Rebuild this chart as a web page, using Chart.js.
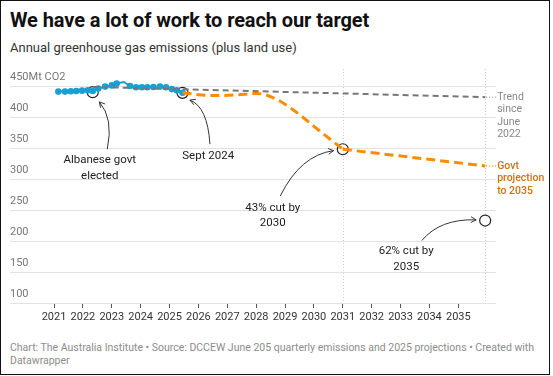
<!DOCTYPE html>
<html>
<head>
<meta charset="utf-8">
<script src="https://cdn.jsdelivr.net/npm/chart.js@4.4.1/dist/chart.umd.min.js"></script>
<style>
  body { margin: 0; background: #fff; font-family: Roboto, "Noto Sans", sans-serif; }
  #frame { position: relative; width: 553px; height: 376px; overflow: hidden; background: #fff; }
  #frame::after { content: ""; position: absolute; left: 0; top: 0; width: 550px; height: 375px; border: 1.5px solid #111; pointer-events: none; box-sizing: border-box; }
  h1 { position: absolute; left: 10px; top: 8px; margin: 0; font-size: 20px; font-weight: 700; color: #111; letter-spacing: -0.1px; }
  .sub { position: absolute; left: 10px; top: 40px; font-size: 13px; color: #333; }
  .wrap { position: absolute; left: 0; top: 60px; width: 553px; height: 275px; }
  .foot { position: absolute; left: 10px; top: 341px; font-size: 10.5px; line-height: 13px; color: #8c8c8c; }
</style>
</head>
<body>
<div id="frame">
  <h1>We have a lot of work to reach our target</h1>
  <div class="sub">Annual greenhouse gas emissions (plus land use)</div>
  <div class="wrap"><canvas id="emissionsChart"></canvas></div>
  <div class="foot">Chart: The Australia Institute • Source: DCCEW June 205 quarterly emissions and 2025 projections • Created with<br>Datawrapper</div>
</div>
<script>
// quarterly actuals (rolling annual, Mt CO2-e)
const actualYears = [2021.15, 2021.38, 2021.58, 2021.77, 2021.97, 2022.17, 2022.34, 2022.53, 2022.77, 2023.0, 2023.17,
  2023.42, 2023.63, 2023.84, 2024.04, 2024.23, 2024.44, 2024.67, 2024.88, 2025.08, 2025.25, 2025.45];
const actualValues = [441, 441, 441.5, 442, 442.5, 443, 442, 446, 449, 451, 454,
  456.5, 450, 448, 448, 448, 448.5, 449, 448, 445, 443, 439];

// govt projection (curved to 2030 target, then straight to 2035)
const projYears = [2025.45, 2026.5, 2027.3, 2028.0, 2028.6, 2029.3, 2030.0, 2031.0, 2035.93];
const projValues = [439, 434.5, 435.5, 438, 431, 411, 385, 348, 321];
const projBreak = 7; // index of 2030 target point

// trend since June 2022
const trendYears = [2022.34, 2035.93];
const trendValues = [448.5, 432];

// circled points + their notes
const markerYears = [2022.34, 2025.45, 2031.0, 2035.93];
const markerValues = [440, 439, 348, 233];
const markerLabels = [["Albanese govt", "elected"], ["Sept 2024"], ["43% cut by", "2030"], ["62% cut by", "2035"]];

const yearTicks = [2021, 2022, 2023, 2024, 2025, 2026, 2027, 2028, 2029, 2030, 2031, 2032, 2033, 2034, 2035];
const valueTicks = [100, 150, 200, 250, 300, 350, 400, 450];
const guideYears = [2031.0, 2035.93];

const toXY = (xs, ys) => xs.map((x, i) => ({ x: x, y: ys[i] }));

// note placement (px offsets from the circle) and arrow curves: start, control, end
const notes = [
  { text: [7, 68], arrow: [14.6, 57, 21, 26, 6.6, 9.7] },
  { text: [25.7, 63.7], arrow: [27.4, 51.3, 25, 14, 7.4, 7.3] },
  { text: [-70, 58.4], arrow: [-62.5, 46.7, -42.5, 6, -9.2, 1.4] },
  { text: [-79, 31], arrow: [-63.3, 20, -45, -2, -9, -0.7] }
];

function drawArrow(ctx, sx, sy, cx, cy, ex, ey) {
  ctx.beginPath();
  ctx.moveTo(sx, sy);
  ctx.quadraticCurveTo(cx, cy, ex, ey);
  ctx.stroke();
  const a = Math.atan2(ey - cy, ex - cx);
  const h = 6;
  ctx.beginPath();
  ctx.moveTo(ex - h * Math.cos(a - 0.5), ey - h * Math.sin(a - 0.5));
  ctx.lineTo(ex, ey);
  ctx.lineTo(ex - h * Math.cos(a + 0.5), ey - h * Math.sin(a + 0.5));
  ctx.stroke();
}

const guides = {
  id: "guides",
  beforeDatasetsDraw(chart) {
    const { ctx, chartArea, scales } = chart;
    ctx.save();
    ctx.strokeStyle = "#cfcfcf";
    ctx.lineWidth = 1;
    ctx.setLineDash([1, 2]);
    guideYears.forEach(yr => {
      const px = Math.round(scales.x.getPixelForValue(yr)) + 0.5;
      ctx.beginPath();
      ctx.moveTo(px, chartArea.top - 17);
      ctx.lineTo(px, chartArea.bottom);
      ctx.stroke();
    });
    ctx.restore();
  },
  afterDatasetsDraw(chart) {
    const { ctx, scales } = chart;
    ctx.save();
    ctx.font = "11.5px Roboto";
    ctx.textAlign = "center";
    ctx.textBaseline = "middle";
    markerYears.forEach((yr, i) => {
      const px = scales.x.getPixelForValue(yr);
      const py = scales.y.getPixelForValue(markerValues[i]);
      const n = notes[i];
      ctx.fillStyle = "#222";
      markerLabels[i].forEach((line, j) => ctx.fillText(line, px + n.text[0], py + n.text[1] + j * 15.5));
      const a = n.arrow;
      ctx.strokeStyle = "#333";
      ctx.lineWidth = 1;
      drawArrow(ctx, px + a[0], py + a[1], px + a[2], py + a[3], px + a[4], py + a[5]);
    });

    // end labels with dotted leaders
    const ends = [
      { x: trendYears[1], y: trendValues[1], color: "#888", weight: "400", lines: ["Trend", "since", "June", "2022"] },
      { x: projYears[projYears.length - 1], y: projValues[projValues.length - 1], color: "#d2700e", weight: "500", lines: ["Govt", "projection", "to 2035"] }
    ];
    ctx.textAlign = "left";
    ends.forEach(e => {
      const px = scales.x.getPixelForValue(e.x);
      const py = scales.y.getPixelForValue(e.y);
      ctx.strokeStyle = e.color;
      ctx.setLineDash([1, 2]);
      ctx.beginPath();
      ctx.moveTo(px + 1, py);
      ctx.lineTo(px + 11, py);
      ctx.stroke();
      ctx.setLineDash([]);
      ctx.fillStyle = e.color;
      ctx.font = e.weight + " 10.5px Roboto";
      e.lines.forEach((line, j) => ctx.fillText(line, px + 12, py + j * 12.5));
    });
    ctx.restore();
  }
};

const projStyle = {
  borderColor: "#ff8c00",
  borderWidth: 3,
  borderDash: [9, 5],
  pointRadius: 0,
  clip: false
};

new Chart(document.getElementById("emissionsChart"), {
  type: "line",
  data: {
    datasets: [
      {
        label: "Trend since June 2022",
        data: toXY(trendYears, trendValues),
        borderColor: "#777",
        borderWidth: 2,
        borderDash: [6, 4],
        pointRadius: 0,
        clip: false
      },
      Object.assign({
        label: "Govt projection to 2030",
        data: toXY(projYears.slice(0, projBreak + 1), projValues.slice(0, projBreak + 1)),
        cubicInterpolationMode: "monotone"
      }, projStyle),
      Object.assign({
        label: "Govt projection to 2035",
        data: toXY(projYears.slice(projBreak), projValues.slice(projBreak)),
        tension: 0
      }, projStyle),
      {
        label: "Emissions",
        data: toXY(actualYears, actualValues),
        borderColor: "#1a9fd3",
        backgroundColor: "#1a9fd3",
        borderWidth: 2,
        pointRadius: 3.3,
        pointBorderWidth: 0,
        pointBackgroundColor: "#1a9fd3",
        clip: false
      },
      {
        label: "Markers",
        data: toXY(markerYears, markerValues),
        showLine: false,
        pointRadius: 5.5,
        pointBorderWidth: 1.2,
        pointBorderColor: "#222",
        pointBackgroundColor: ["rgba(0,0,0,0)", "rgba(0,0,0,0)", "rgba(0,0,0,0)", "#fff"],
        clip: false
      }
    ]
  },
  options: {
    responsive: true,
    maintainAspectRatio: false,
    animation: false,
    layout: { padding: { left: 10, right: 57, top: 26, bottom: 2 } },
    plugins: { legend: { display: false }, tooltip: { enabled: false } },
    scales: {
      x: {
        type: "linear",
        min: 2019.476,
        max: 2036.305,
        afterBuildTicks: axis => { axis.ticks = yearTicks.map(v => ({ value: v })); },
        afterFit: axis => { axis.height = 30; },
        border: { display: false },
        grid: { drawOnChartArea: false, drawTicks: true, tickLength: 5, color: "#555" },
        ticks: {
          autoSkip: false,
          maxRotation: 0,
          padding: 3,
          color: "#333",
          font: { family: "Roboto", size: 11 },
          callback: v => String(v)
        }
      },
      y: {
        min: 100,
        max: 450,
        afterBuildTicks: axis => { axis.ticks = valueTicks.map(v => ({ value: v })); },
        afterFit: axis => { axis.width = 0; },
        border: { display: false },
        grid: { color: "#e2e2e2", drawTicks: false },
        ticks: {
          mirror: true,
          padding: 0,
          labelOffset: -9,
          color: "#777",
          font: { family: "Roboto", size: 11 },
          callback: v => (v === 450 ? "450Mt CO2" : String(v))
        }
      }
    }
  },
  plugins: [guides]
});
</script>
</body>
</html>
